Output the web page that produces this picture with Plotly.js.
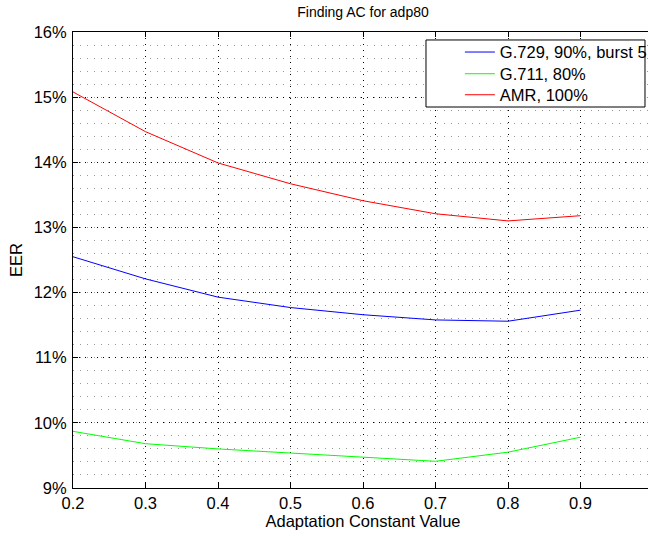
<!DOCTYPE html>
<html>
<head>
<meta charset="utf-8">
<script src="https://cdn.plot.ly/plotly-3.0.1.min.js"></script>
<style>
html,body{margin:0;padding:0;overflow:hidden;background:#fff;}
#chart{width:680px;height:536px;}
</style>
</head>
<body>
<div id="chart"></div>
<script>
const acValues = [0.2, 0.3, 0.4, 0.5, 0.6, 0.7, 0.8, 0.9];
const g729 = [12.55, 12.21, 11.93, 11.77, 11.66, 11.58, 11.56, 11.73];
const g711 = [9.87, 9.68, 9.60, 9.54, 9.48, 9.41, 9.55, 9.78];
const amr = [15.08, 14.47, 13.99, 13.67, 13.41, 13.21, 13.10, 13.18];
const seriesNames = ['G.729, 90%, burst 5', 'G.711, 80%', 'AMR, 100%'];
const xTicks = [0.2, 0.3, 0.4, 0.5, 0.6, 0.7, 0.8, 0.9, 1.0];
const xTickText = ['0.2', '0.3', '0.4', '0.5', '0.6', '0.7', '0.8', '0.9', ''];
const yTicks = [9, 10, 11, 12, 13, 14, 15, 16];
const yTickText = ['9%', '10%', '11%', '12%', '13%', '14%', '15%', '16%'];

const font = {family: 'Liberation Sans, Arial, sans-serif', color: '#000'};
const fs = 16.5;
const traces = [
  {x: acValues, y: g729, name: seriesNames[0], mode: 'lines', line: {color: '#0000ff', width: 1}, legend: 'legend'},
  {x: acValues, y: g711, name: seriesNames[1], mode: 'lines', line: {color: '#00ff00', width: 1}, legend: 'legend2'},
  {x: acValues, y: amr, name: seriesNames[2], mode: 'lines', line: {color: '#ff0000', width: 1}, legend: 'legend3'}
];
function leg(y) {
  return {x: 0.667, y: y, xanchor: 'left', yanchor: 'middle', borderwidth: 0, bgcolor: 'rgba(0,0,0,0)',
    font: Object.assign({size: fs}, font), itemwidth: 30};
}
const layout = {
  width: 680, height: 536,
  margin: {l: 73, r: 27, t: 32, b: 48},
  paper_bgcolor: '#fff', plot_bgcolor: '#fff',
  font: Object.assign({size: fs}, font),
  title: {text: 'Finding AC for adp80', font: Object.assign({size: 14}, font), x: 0.5, xref: 'paper', xanchor: 'center', y: 0.977, yanchor: 'middle'},
  showlegend: true,
  legend: leg(0.9555),
  legend2: leg(0.9079),
  legend3: leg(0.8618),
  shapes: [
    {type: 'rect', xref: 'paper', yref: 'paper', x0: 0.6086, x1: 0.9862, y0: 0.8355, y1: 0.9825,
     line: {color: '#000', width: 1}, fillcolor: '#fff', layer: 'above'}
  ],
  xaxis: {
    range: [0.2, 1.0], tickvals: xTicks, ticktext: xTickText, ticks: 'inside', ticklen: 5, tickcolor: '#000',
    showline: true, linecolor: '#000', linewidth: 1, mirror: 'ticks', zeroline: false,
    showgrid: true, gridcolor: '#000', griddash: '1px,5px', gridwidth: 1,
    tickfont: Object.assign({size: fs}, font), ticklabelstandoff: 0,
    title: {text: 'Adaptation Constant Value', font: Object.assign({size: fs}, font), standoff: 0}
  },
  yaxis: {
    range: [9, 16], tickvals: yTicks, ticktext: yTickText, ticks: 'inside', ticklen: 5, tickcolor: '#000',
    showline: true, linecolor: '#000', linewidth: 1, mirror: 'ticks', zeroline: false,
    showgrid: true, gridcolor: '#000', griddash: '1px,5px', gridwidth: 1,
    tickfont: Object.assign({size: fs}, font), ticklabelstandoff: 2,
    minor: {dtick: 0.2, showgrid: true, gridcolor: '#999', griddash: '1px,6px', gridwidth: 1, ticks: ''},
    title: {text: 'EER', font: Object.assign({size: fs}, font), standoff: 6}
  }
};
Plotly.newPlot('chart', traces, layout, {displayModeBar: false, staticPlot: true});
</script>
</body>
</html>
